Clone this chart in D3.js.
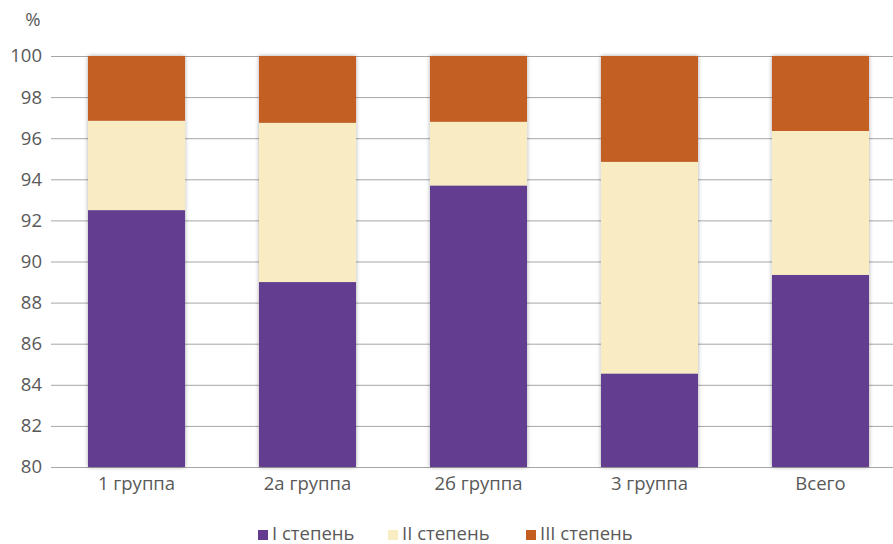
<!DOCTYPE html>
<html><head><meta charset="utf-8">
<script src="https://cdn.jsdelivr.net/npm/d3@7"></script>
<style>body{margin:0;background:#fff;} svg{display:block;font-family:"Open Sans","Liberation Sans",sans-serif;}</style>
</head><body>
<svg id="c" width="893" height="544"></svg>
<script>
const categories = ["1 группа","2а группа","2б группа","3 группа","Всего"];
const seriesNames = ["I степень","II степень","III степень"];
const s1 = [92.5, 89.0, 93.7, 84.55, 89.35];
const s2 = [4.35, 7.75, 3.1, 10.3, 7.0];
const s3 = [3.15, 3.25, 3.2, 5.15, 3.65];
const colors = ["#633C8F","#F9ECC3","#C35E20"];
const yTicks = [80,82,84,86,88,90,92,94,96,98,100];

const FONT = "Open Sans, sans-serif";
const FS = 18.5;
const svg = d3.select("#c");
const x = d3.scaleBand().domain(categories).range([51,906]).paddingInner(0.4327).paddingOuter(0.2164);
const y = d3.scaleLinear().domain([80,100]).range([467,56]);

const defs = svg.append("defs");
const f = defs.append("filter").attr("id","sh").attr("x","-10%").attr("y","-10%").attr("width","120%").attr("height","120%");
f.append("feGaussianBlur").attr("in","SourceAlpha").attr("stdDeviation",2).attr("result","b");
f.append("feComponentTransfer").attr("in","b").attr("result","o2").append("feFuncA").attr("type","linear").attr("slope",0.35);
const m = f.append("feMerge"); m.append("feMergeNode").attr("in","o2"); m.append("feMergeNode").attr("in","SourceGraphic");

// gridlines
svg.append("g").selectAll("line").data(yTicks).join("line")
  .attr("x1",51).attr("x2",893).attr("y1",d=>y(d)+0.5).attr("y2",d=>y(d)+0.5)
  .attr("stroke","#A6A6A6").attr("stroke-width",1);

// y axis labels
const yAxis = d3.axisLeft(y).tickValues(yTicks).tickSize(0).tickPadding(9);
const ga = svg.append("g").attr("transform","translate(51,0)").call(yAxis);
ga.select(".domain").remove();
ga.selectAll("text").attr("font-size",FS).attr("fill","#595959").attr("font-family",FONT);
svg.append("text").attr("x",33).attr("y",26).attr("text-anchor","middle").attr("font-size",FS).attr("fill","#595959").attr("font-family",FONT).text("%");

// stacks
const data = categories.map((c,i)=>({cat:c, a:s1[i], b:s2[i], c:s3[i]}));
const series = d3.stack().keys(["a","b","c"])(data);
const gBars = svg.append("g").attr("filter","url(#sh)");
series.forEach((s,si)=>{
  gBars.append("g").selectAll("rect").data(s).join("rect")
    .attr("x",d=>x(d.data.cat)).attr("width",x.bandwidth())
    .attr("y",d=>y(Math.min(d[1],100))).attr("height",d=>y(Math.max(d[0],80))-y(Math.min(d[1],100)))
    .attr("fill",colors[si]);
});

// x labels
const xAxis = d3.axisBottom(x).tickSize(0).tickPadding(10);
const gx = svg.append("g").attr("transform","translate(0,467)").call(xAxis);
gx.select(".domain").remove();
gx.selectAll("text").attr("font-size",FS).attr("fill","#595959").attr("font-family",FONT);

// legend
const legX = [258, 388, 526];
const lg = svg.append("g");
seriesNames.forEach((n,i)=>{
  lg.append("rect").attr("x",legX[i]).attr("y",530).attr("width",10).attr("height",10).attr("fill",colors[i]);
  lg.append("text").attr("x",legX[i]+14).attr("y",540).attr("font-size",FS).attr("fill","#595959").attr("font-family",FONT).text(n);
});
</script>
</body></html>
